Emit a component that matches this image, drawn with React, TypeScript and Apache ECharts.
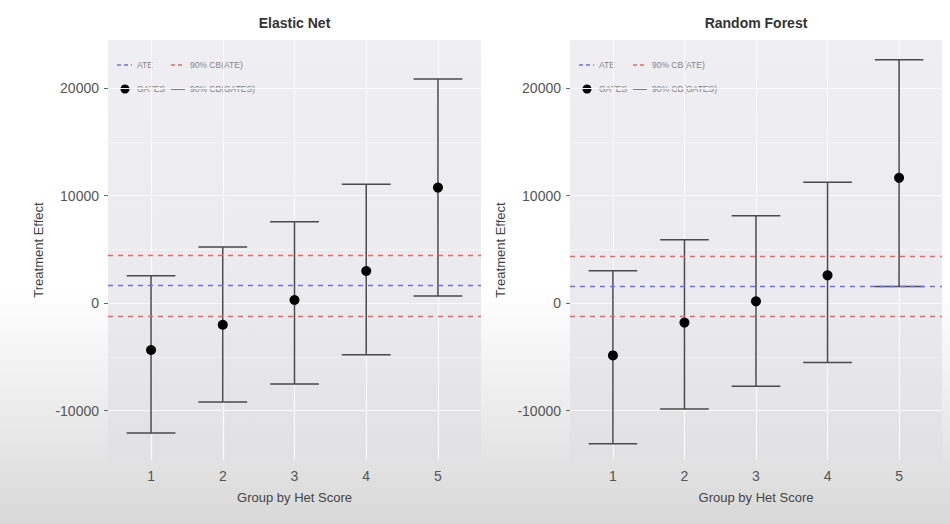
import React, { useEffect, useRef } from "react";
import * as echarts from "echarts";

// Groups by heterogeneity score
const groups = [1, 2, 3, 4, 5];

// Axis ticks
const yMajorTicks = [-10000, 0, 10000, 20000];
const yMinorTicks = [-5000, 5000, 15000];

// Elastic Net: GATES estimates and 90% confidence bands
const enGates = [-4370, -2020, 280, 2980, 10740];
const enLower = [-12090, -9210, -7540, -4810, 650];
const enUpper = [2540, 5210, 7560, 11040, 20840];
const enAte = [1650];
const enAteBand = [-1210, 4470];

// Random Forest: GATES estimates and 90% confidence bands
const rfGates = [-4870, -1820, 160, 2580, 11650];
const rfLower = [-13080, -9860, -7750, -5540, 1550];
const rfUpper = [3010, 5900, 8130, 11230, 22640];
const rfAte = [1580];
const rfAteBand = [-1210, 4370];

const panelTitles = ["Elastic Net", "Random Forest"];

const Y_MIN = -14600;
const Y_MAX = 24470;
const X_MIN = 0.4;
const X_MAX = 5.6;

const FONT = "'Liberation Sans', Arial, Helvetica, sans-serif";
const ATE_BLUE = "#6f6fe0";
const CB_RED = "#e06a6a";
const BAR_COLOR = "#4a4a4a";

export default function App() {
  const ref = useRef<HTMLDivElement | null>(null);

  useEffect(() => {
    if (!ref.current) return;
    const chart = echarts.init(ref.current, undefined, { renderer: "svg" });

    const panels = [
      { gates: enGates, lower: enLower, upper: enUpper, ate: enAte[0], band: enAteBand },
      { gates: rfGates, lower: rfLower, upper: rfUpper, ate: rfAte[0], band: rfAteBand },
    ];
    const layout = [
      { left: 108, width: 373 },
      { left: 570, width: 372 },
    ];
    const top = 40;
    const height = 420;

    const grids: any[] = [];
    const xAxes: any[] = [];
    const yAxes: any[] = [];
    const series: any[] = [];
    const graphics: any[] = [];

    panels.forEach((p, i) => {
      const L = layout[i];
      grids.push({
        left: L.left,
        top,
        width: L.width,
        height,
        show: true,
        borderWidth: 0,
        backgroundColor: {
          type: "linear",
          x: 0,
          y: 0,
          x2: 0,
          y2: 1,
          colorStops: [
            { offset: 0, color: "#efeef2" },
            { offset: 0.6, color: "#ebeaee" },
            { offset: 1, color: "#e1e0e4" },
          ],
        },
      });
      xAxes.push({
        type: "value",
        gridIndex: i,
        min: X_MIN,
        max: X_MAX,
        name: "Group by Het Score",
        nameLocation: "middle",
        nameGap: 31,
        nameTextStyle: { fontFamily: FONT, fontSize: 13, color: "#444" },
        axisLine: { show: false },
        axisTick: {
          show: true,
          customValues: groups,
          length: 4,
          lineStyle: { color: "#666", width: 1 },
        },
        axisLabel: {
          customValues: groups,
          margin: 9,
          fontFamily: FONT,
          fontSize: 14,
          color: "#555",
          formatter: (v: number) => String(v),
        },
        splitLine: { show: false },
      });
      yAxes.push({
        type: "value",
        gridIndex: i,
        min: Y_MIN,
        max: Y_MAX,
        name: "Treatment Effect",
        nameLocation: "middle",
        nameRotate: 90,
        nameGap: 63,
        nameTextStyle: { fontFamily: FONT, fontSize: 13, color: "#444" },
        axisLine: { show: false },
        axisTick: {
          show: true,
          customValues: yMajorTicks,
          length: 4,
          lineStyle: { color: "#666", width: 1 },
        },
        axisLabel: {
          customValues: yMajorTicks,
          margin: 9,
          fontFamily: FONT,
          fontSize: 14,
          color: "#555",
          formatter: (v: number) => String(v),
        },
        splitLine: { show: false },
      });

      // panel gridlines, kept underneath everything else
      series.push({
        type: "line",
        xAxisIndex: i,
        yAxisIndex: i,
        data: [],
        z: 1,
        silent: true,
        markLine: {
          silent: true,
          z: 1,
          symbol: "none",
          label: { show: false },
          animation: false,
          data: [
            ...yMinorTicks.map((v) => ({ yAxis: v, lineStyle: { color: "#fafafb", width: 0.6, type: "solid" } })),
            ...yMajorTicks.map((v) => ({ yAxis: v, lineStyle: { color: "#fafafb", width: 1.2, type: "solid" } })),
            ...groups.map((g) => ({ xAxis: g, lineStyle: { color: "#fafafb", width: 1.2, type: "solid" } })),
          ],
        },
      });

      // 90% CB(GATES) error bars
      series.push({
        type: "custom",
        xAxisIndex: i,
        yAxisIndex: i,
        z: 3,
        data: groups.map((g, k) => [g, p.lower[k], p.upper[k]]),
        encode: { x: 0, y: [1, 2] },
        renderItem: (params: any, api: any) => {
          const x = api.value(0);
          const lo = api.coord([x, api.value(1)]);
          const hi = api.coord([x, api.value(2)]);
          const half = api.size([0.68, 0])[0] / 2;
          const style = { stroke: BAR_COLOR, lineWidth: 1.5 };
          return {
            type: "group",
            children: [
              { type: "line", shape: { x1: lo[0], y1: lo[1], x2: hi[0], y2: hi[1] }, style },
              { type: "line", shape: { x1: lo[0] - half, y1: lo[1], x2: lo[0] + half, y2: lo[1] }, style },
              { type: "line", shape: { x1: hi[0] - half, y1: hi[1], x2: hi[0] + half, y2: hi[1] }, style },
            ],
          };
        },
      });

      // GATES points
      series.push({
        type: "scatter",
        xAxisIndex: i,
        yAxisIndex: i,
        z: 4,
        symbol: "circle",
        symbolSize: 10,
        itemStyle: { color: "#000", opacity: 1 },
        data: groups.map((g, k) => [g, p.gates[k]]),
      });

      // ATE and its 90% band
      series.push({
        type: "line",
        xAxisIndex: i,
        yAxisIndex: i,
        data: [],
        z: 5,
        silent: true,
        markLine: {
          silent: true,
          z: 5,
          symbol: "none",
          label: { show: false },
          animation: false,
          data: [
            { yAxis: p.ate, lineStyle: { color: ATE_BLUE, width: 1.4, type: [5, 5] } },
            ...p.band.map((v) => ({ yAxis: v, lineStyle: { color: CB_RED, width: 1.4, type: [5, 5] } })),
          ],
        },
      });

      // panel title
      graphics.push({
        type: "text",
        x: L.left + L.width / 2,
        y: 23,
        style: {
          text: panelTitles[i],
          fontFamily: FONT,
          fontSize: 14,
          fontWeight: "bold",
          fill: "#333",
          align: "center",
          verticalAlign: "middle",
        },
      });

      // legend
      const lx = L.left;
      const r1 = 65;
      const r2 = 89;
      const legendText = { fontFamily: FONT, fontSize: 8.5, fill: "#858585", verticalAlign: "middle", align: "left" };
      graphics.push(
        { type: "line", shape: { x1: lx + 9, y1: r1, x2: lx + 24, y2: r1 }, style: { stroke: ATE_BLUE, lineWidth: 1.3, lineDash: [4, 3] } },
        { type: "text", x: lx + 29, y: r1, style: { ...legendText, text: "ATE" } },
        { type: "line", shape: { x1: lx + 63, y1: r1, x2: lx + 77, y2: r1 }, style: { stroke: CB_RED, lineWidth: 1.3, lineDash: [4, 3] } },
        { type: "text", x: lx + 82, y: r1, style: { ...legendText, text: "90% CB(ATE)" } },
        { type: "circle", shape: { cx: lx + 17, cy: r2, r: 4.5 }, style: { fill: "#000" } },
        { type: "text", x: lx + 29, y: r2, style: { ...legendText, text: "GATES" } },
        { type: "line", shape: { x1: lx + 63, y1: r2, x2: lx + 77, y2: r2 }, style: { stroke: "#555", lineWidth: 1.5 } },
        { type: "text", x: lx + 82, y: r2, style: { ...legendText, text: "90% CB(GATES)" } }
      );
    });

    chart.setOption({
      animation: false,
      backgroundColor: "transparent",
      grid: grids,
      xAxis: xAxes,
      yAxis: yAxes,
      series,
      graphic: graphics,
    });

    return () => chart.dispose();
  }, []);

  return (
    <div
      style={{
        position: "fixed",
        left: 0,
        top: 0,
        width: 950,
        height: 524,
        background:
          "linear-gradient(to bottom, #ffffff 0%, #ffffff 55%, #ececec 78%, #d8d8d8 100%)",
      }}
    >
      <div ref={ref} style={{ width: 950, height: 524 }} />
    </div>
  );
}
